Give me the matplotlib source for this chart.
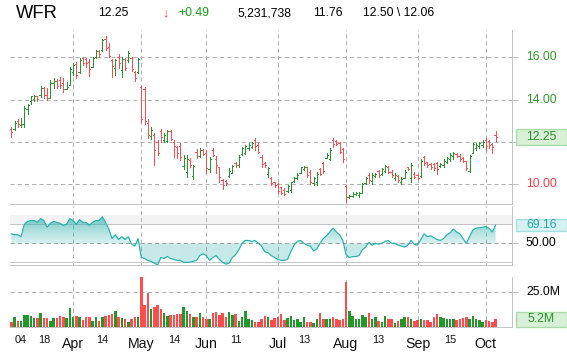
import matplotlib
matplotlib.use('Agg')
import matplotlib.pyplot as plt
import matplotlib.transforms as mtrans
from matplotlib.patches import Rectangle
from matplotlib.colors import to_rgb
import numpy as np

plt.rcParams['font.family'] = ['Liberation Sans', 'DejaVu Sans']
plt.rcParams['lines.scale_dashes'] = False

# ---------------- data ----------------
opens = [12.60, 12.60, 13.00, 12.80, 12.85, 13.55, 13.95, 14.05, 14.15, 14.20,
         14.55, 14.20, 14.10, 14.80, 14.90, 14.95, 14.80, 14.50, 14.70, 15.30,
         15.70, 15.30, 15.95, 15.90, 15.80, 15.55, 16.00, 16.30, 16.35, 16.85,
         16.50, 15.85, 15.50, 16.00, 15.40, 15.90, 15.85, 15.95, 15.30, 15.30,
         14.60, 14.50, 12.90, 12.30, 12.35, 12.00, 12.50, 12.10, 12.05, 12.50,
         12.00, 11.75, 11.80, 10.85, 10.60, 11.15, 10.40, 11.55, 11.35, 11.60,
         11.50, 10.70, 11.60, 11.20, 10.80, 10.20, 10.15, 10.40, 10.55, 11.00,
         10.90, 11.45, 11.50, 11.70, 11.75, 12.10, 11.85, 11.30, 11.00, 10.50,
         10.30, 10.10, 10.00, 9.85, 9.75, 9.70, 9.75, 10.15, 10.30, 10.55,
         10.70, 10.80, 10.60, 10.05, 10.10, 10.70, 11.00, 11.25, 11.20, 12.10,
         12.05, 11.95, 11.65, 9.90, 9.38, 9.45, 9.52, 9.50, 9.60, 10.05,
         10.45, 10.15, 10.40, 10.62, 10.50, 10.65, 10.80, 10.60, 10.30, 10.40,
         10.10, 10.30, 10.80, 10.30, 10.50, 10.45, 10.40, 11.30, 11.05, 10.95,
         10.95, 11.00, 10.85, 10.90, 11.05, 11.20, 11.35, 11.45, 11.35, 11.25,
         11.10, 10.65, 11.50, 11.70, 11.80, 11.85, 12.10, 12.05, 11.90, 12.33]
highs = [12.72, 13.01, 13.07, 13.12, 13.70, 13.80, 14.19, 14.22, 14.17, 14.65,
         14.61, 14.54, 14.93, 15.01, 14.96, 15.09, 15.01, 14.85, 15.56, 15.72,
         15.80, 15.95, 16.03, 15.95, 15.91, 16.03, 16.35, 16.35, 16.85, 17.01,
         16.66, 15.91, 15.91, 16.16, 16.03, 15.95, 16.31, 16.03, 15.37, 15.95,
         14.65, 14.58, 13.07, 12.72, 12.41, 12.09, 12.60, 12.44, 12.57, 12.57,
         12.09, 11.81, 11.97, 11.39, 11.39, 11.23, 10.91, 11.65, 11.70, 11.65,
         11.62, 11.31, 11.70, 11.34, 10.83, 10.24, 10.20, 10.76, 10.91, 11.07,
         11.39, 11.78, 11.86, 11.94, 12.02, 12.17, 11.94, 11.39, 11.07, 10.83,
         10.36, 10.13, 10.08, 9.89, 9.81, 9.97, 10.13, 10.36, 10.52, 10.83,
         10.87, 10.83, 10.68, 10.36, 10.60, 10.76, 11.07, 11.46, 11.70, 12.17,
         12.09, 12.02, 11.70, 9.97, 9.50, 9.65, 9.65, 9.65, 10.05, 10.36,
         10.52, 10.52, 10.55, 10.68, 10.76, 10.91, 10.87, 10.68, 10.52, 10.44,
         10.36, 10.68, 10.83, 11.02, 10.60, 10.49, 11.20, 11.34, 11.07, 10.99,
         10.99, 11.07, 11.02, 11.18, 11.31, 11.46, 11.54, 11.50, 11.43, 11.31,
         11.12, 11.39, 11.97, 11.94, 12.00, 12.09, 12.17, 12.09, 11.94, 12.50]
lows = [12.22, 12.57, 12.72, 12.72, 12.72, 13.32, 13.80, 13.95, 13.95, 14.14,
        14.06, 13.98, 14.06, 14.54, 14.54, 14.54, 14.38, 14.49, 14.69, 15.17,
        15.01, 15.24, 15.64, 15.56, 15.12, 15.53, 15.95, 16.03, 16.31, 16.35,
        16.00, 15.09, 15.17, 15.48, 15.09, 15.40, 15.80, 15.37, 14.90, 15.24,
        12.96, 12.85, 12.17, 12.13, 10.91, 11.39, 12.02, 12.02, 12.02, 12.07,
        11.31, 11.23, 11.15, 10.71, 10.36, 10.80, 10.24, 11.23, 11.31, 11.39,
        10.55, 10.60, 11.34, 10.52, 10.13, 9.76, 9.97, 10.36, 10.52, 10.83,
        10.83, 11.39, 11.43, 11.62, 11.70, 11.62, 11.46, 10.83, 10.83, 10.36,
        9.97, 9.89, 9.61, 9.54, 9.50, 9.65, 9.65, 10.13, 10.24, 10.52,
        10.68, 10.36, 10.02, 9.97, 9.97, 10.44, 10.55, 11.23, 11.15, 11.78,
        11.86, 11.46, 11.07, 9.18, 9.34, 9.42, 9.50, 9.42, 9.57, 10.02,
        10.05, 10.02, 10.36, 10.36, 10.44, 10.60, 10.52, 10.36, 10.20, 10.13,
        10.02, 10.28, 10.68, 10.13, 10.28, 10.24, 10.36, 10.91, 10.83, 10.71,
        10.68, 10.49, 10.80, 10.83, 10.99, 11.12, 11.18, 11.28, 11.12, 11.07,
        10.68, 10.60, 11.46, 11.62, 11.70, 11.78, 11.62, 11.70, 11.50, 12.06]
closes = [12.45, 12.92, 12.85, 12.87, 13.62, 13.75, 14.15, 14.18, 14.05, 14.55,
          14.20, 14.10, 14.80, 14.90, 14.65, 14.70, 14.50, 14.60, 15.45, 15.65,
          15.15, 15.85, 15.75, 15.75, 15.45, 15.95, 16.30, 16.15, 16.80, 16.45,
          16.05, 15.60, 15.85, 15.75, 15.90, 15.50, 16.20, 15.45, 15.00, 15.90,
          13.10, 13.00, 12.35, 12.55, 11.60, 11.50, 12.25, 12.35, 12.50, 12.15,
          11.80, 11.50, 11.30, 11.25, 11.20, 10.90, 10.85, 11.35, 11.60, 11.45,
          10.75, 11.20, 11.40, 10.90, 10.35, 9.95, 10.05, 10.65, 10.85, 10.90,
          11.30, 11.70, 11.80, 11.85, 11.95, 11.80, 11.55, 10.95, 10.90, 10.75,
          10.05, 9.95, 9.70, 9.60, 9.55, 9.90, 10.10, 10.30, 10.45, 10.80,
          10.82, 10.45, 10.10, 10.30, 10.50, 10.50, 10.65, 11.40, 11.60, 11.90,
          11.92, 11.55, 11.20, 9.40, 9.45, 9.55, 9.60, 9.58, 10.00, 10.30,
          10.20, 10.45, 10.50, 10.45, 10.70, 10.85, 10.60, 10.45, 10.45, 10.20,
          10.25, 10.60, 10.72, 10.90, 10.35, 10.30, 11.10, 11.00, 10.90, 10.80,
          10.75, 10.70, 10.95, 11.10, 11.25, 11.40, 11.50, 11.35, 11.20, 11.10,
          10.75, 11.35, 11.90, 11.85, 11.95, 12.00, 11.80, 11.85, 11.76, 12.25]
volumes = [3.6, 7.1, 4.0, 4.3, 8.3, 8.3, 7.6, 6.0, 6.0, 10.0,
           6.0, 6.0, 4.3, 6.0, 6.0, 7.6, 6.7, 6.0, 13.6, 7.1,
           7.6, 6.7, 4.8, 6.7, 6.7, 4.3, 6.7, 4.3, 6.7, 7.6,
           8.3, 9.0, 11.4, 6.7, 6.0, 5.2, 3.6, 5.2, 6.7, 7.1,
           35.7, 15.5, 23.8, 12.6, 14.3, 15.5, 12.4, 10.0, 7.6, 8.3,
           8.3, 9.0, 9.0, 14.3, 11.4, 9.0, 7.1, 7.1, 10.0, 6.7,
           5.2, 5.7, 10.0, 10.7, 8.3, 10.0, 7.1, 10.7, 8.3, 9.0,
           4.3, 7.1, 11.2, 5.7, 4.8, 3.6, 3.6, 5.2, 7.9, 6.7,
           4.8, 6.0, 6.7, 9.0, 4.8, 6.0, 7.6, 4.8, 5.7, 3.6,
           6.7, 3.6, 3.6, 2.9, 5.7, 10.0, 5.7, 5.7, 5.7, 6.7,
           5.7, 4.8, 5.7, 31.7, 11.4, 7.6, 5.7, 5.7, 8.3, 7.1,
           10.0, 5.2, 7.1, 4.3, 3.6, 7.6, 5.7, 5.2, 2.9, 4.3,
           5.7, 6.7, 6.7, 5.2, 4.3, 4.8, 5.2, 4.8, 4.8, 3.6,
           7.1, 9.0, 7.1, 6.0, 5.2, 5.2, 5.2, 4.8, 5.2, 6.0,
           6.7, 5.2, 7.6, 5.2, 4.8, 3.6, 4.8, 4.3, 3.6, 5.2]
rsi = [60, 59, 59, 57, 70, 73, 74, 74, 72, 76,
       74, 67, 71, 73, 72, 71, 69, 70, 76, 74,
       70, 75, 72, 72, 69, 72, 74, 74, 78, 72,
       65, 55, 59, 54, 57, 54, 57, 49, 47, 55,
       35, 34, 32, 31, 29, 27, 35, 34, 36, 34,
       33, 32, 32, 30, 30, 30, 31, 32, 37, 39,
       37, 32, 35, 37, 33, 30, 28, 29, 35, 38,
       43, 50, 53, 53, 52, 53, 50, 47, 41, 40,
       37, 35, 33, 32, 32, 33, 41, 48, 52, 53,
       50, 48, 47, 42, 44, 50, 55, 58, 62, 66,
       62, 59, 53, 38, 35, 36, 36, 37, 43, 46,
       51, 48, 50, 49, 50, 52, 53, 50, 50, 48,
       47, 46, 48, 53, 49, 48, 54, 60, 57, 58,
       56, 54, 53, 55, 59, 61, 65, 62, 60, 55,
       50, 57, 64, 66, 66.5, 67, 67.5, 66, 62, 69.16]

month_labels = ['Apr', 'May', 'Jun', 'Jul', 'Aug', 'Sep', 'Oct']
month_pos = [19, 40, 60, 82, 103, 125, 146]
day_labels = ['04', '18', '14', '14', '11', '13', '13', '15']
day_pos = [3, 10, 28, 50, 69, 90, 113, 135]
price_ticks = [10, 12, 14, 16]
price_tick_labels = ['10.00', '12.00', '14.00', '16.00']

header = [('WFR', 16, 13.2, '#000000'), ('12.25', 98, 8.8, '#000000'),
          ('\u2193', 162, 9.0, '#ff4040'), ('+0.49', 178, 8.8, '#14a014'),
          ('5,231,738', 238, 8.8, '#000000'), ('11.76', 313, 8.8, '#000000'),
          ('12.50 \\ 12.06', 363, 8.8, '#000000')]

# ---------------- style ----------------
W, H = 567, 352
RED = '#ff4c4c'
GREEN = '#22982a'
GRID = '#b2b2b2'
SPINE = '#c4c4c4'
TEAL = '#22b2ad'
PX = 72.0 / 100.0  # one pixel in points

fig = plt.figure(figsize=(W / 100, H / 100), dpi=100)
fig.patch.set_facecolor('white')


def rect(x0, y0, x1, y1):
    return [x0 / W, 1 - y1 / H, (x1 - x0) / W, (y1 - y0) / H]


ax_p = fig.add_axes(rect(10, 30, 511.5, 204))
ax_r = fig.add_axes(rect(10, 206, 511.5, 265.3))
ax_v = fig.add_axes(rect(10, 277, 511.5, 326.7))

n = len(closes)
xs = np.arange(n)
XLIM = (-0.4, 153.9)
colors = [GREEN if c >= o else RED for o, c in zip(opens, closes)]

for ax in (ax_p, ax_r, ax_v):
    ax.set_xlim(*XLIM)
    for s in ('top', 'left'):
        ax.spines[s].set_visible(False)
    for s in ('right', 'bottom'):
        ax.spines[s].set_color(SPINE)
        ax.spines[s].set_linewidth(PX)
    ax.set_xticks([])
    ax.tick_params(axis='y', left=False, right=True, labelleft=False,
                   labelright=False, length=4, width=PX, color=SPINE)
    for m in month_pos:
        ax.axvline(m, color=GRID, lw=PX, dashes=(3.0, 2.2), zorder=0.5)

# ---------------- price panel ----------------
BLW = 0.7
ax_p.set_ylim(9.07, 17.29)
ax_p.set_yticks(price_ticks)
for t in price_ticks:
    ax_p.axhline(t, color=GRID, lw=PX, dashes=(3.0, 2.2), zorder=0.5)
ax_p.vlines(xs, lows, highs, colors=colors, lw=BLW, antialiased=False, zorder=3)
ax_p.hlines(opens, xs - 0.36, xs, colors=colors, lw=BLW, antialiased=False, zorder=3)
ax_p.hlines(closes, xs, xs + 0.36, colors=colors, lw=BLW, antialiased=False, zorder=3)

tp = mtrans.blended_transform_factory(fig.transFigure, ax_p.transData)
lab_colors = {10: '#ff3b48', 12: '#2f9a2a', 14: '#2f9a2a', 16: '#2f9a2a'}
for t, lab in zip(price_ticks, price_tick_labels):
    fig.text(526 / W, t, lab, transform=tp, ha='left', va='center',
             fontsize=8.8, color=lab_colors[t], zorder=2)
last = closes[-1]
fig.patches.append(Rectangle((515.7 / W, last - 0.37), 51 / W, 0.74, transform=tp,
                             facecolor='#d8efd8', edgecolor='#a9dca9', lw=1.0, zorder=3))
fig.text(541.2 / W, last, f'{last:.2f}', transform=tp, ha='center', va='center',
         fontsize=8.8, color='#2a8c2a', zorder=4)

# ---------------- RSI panel ----------------
RLIM = (26.8, 89.3)
ax_r.set_ylim(*RLIM)
ax_r.set_yticks([50])
ax_r.axhspan(70, 80, color='#f2f3f2', zorder=0.2, lw=0)
ax_r.axhline(70, color='#c6c6c6', lw=PX, zorder=0.6)
ax_r.axhline(30, color='#c6c6c6', lw=PX, zorder=0.6)
ax_r.axhline(50, color='#a0a0a0', lw=PX, dashes=(3.0, 2.2), zorder=2.5)

poly = ax_r.fill_between(xs, rsi, 50, facecolor='none', edgecolor='none')
yy = np.linspace(RLIM[0], RLIM[1], 300)
alpha = np.where(yy >= 50, 0.18 + 0.47 * np.clip((yy - 50) / 28, 0, 1), 0.27)
grad = np.zeros((300, 1, 4))
grad[..., :3] = to_rgb('#2ab0ad')
grad[:, 0, 3] = alpha
im = ax_r.imshow(grad, extent=[XLIM[0], XLIM[1], RLIM[0], RLIM[1]], origin='lower',
                 aspect='auto', zorder=1, interpolation='bilinear')
im.set_clip_path(poly.get_paths()[0], transform=ax_r.transData)
ax_r.plot(xs, rsi, color=TEAL, lw=0.85, zorder=3)
ax_r.set_xlim(*XLIM)
ax_r.set_ylim(*RLIM)

tr = mtrans.blended_transform_factory(fig.transFigure, ax_r.transData)
lr = rsi[-1]
fig.patches.append(Rectangle((515.7 / W, lr - 6.5), 51 / W, 13.0, transform=tr,
                             facecolor='#d6f1f1', edgecolor='#a6dede', lw=1.0, zorder=3))
fig.text(541.2 / W, lr, f'{lr:.2f}', transform=tr, ha='center', va='center',
         fontsize=8.8, color='#22aaa8', zorder=4)
fig.text(526 / W, 50, '50.00', transform=tr, ha='left', va='center',
         fontsize=8.8, color='#000000')

# ---------------- volume panel ----------------
ax_v.set_ylim(0, 35.5)
ax_v.set_yticks([25])
ax_v.axhline(25, color=GRID, lw=PX, dashes=(3.0, 2.2), zorder=0.5)
ax_v.bar(xs, volumes, width=0.78, color=colors, lw=0, zorder=2)
tv = mtrans.blended_transform_factory(fig.transFigure, ax_v.transData)
fig.text(526 / W, 25, '25.0M', transform=tv, ha='left', va='center',
         fontsize=8.8, color='#000000')
lv = volumes[-1]
fig.patches.append(Rectangle((515.7 / W, lv - 5.3), 51 / W, 10.6, transform=tv,
                             facecolor='#d8efd8', edgecolor='#a9dca9', lw=1.0, zorder=3))
fig.text(541.2 / W, lv, f'{lv:.1f}M', transform=tv, ha='center', va='center',
         fontsize=8.8, color='#2a8c2a', zorder=4)

# x labels
tx = mtrans.blended_transform_factory(ax_v.transData, fig.transFigure)
for p, lab in zip(month_pos, month_labels):
    ax_v.text(p, 1 - 344 / H, lab, transform=tx, ha='center', va='center',
              fontsize=10.2, color='#111111', clip_on=False)
for p, lab in zip(day_pos, day_labels):
    ax_v.text(p, 1 - 340 / H, lab, transform=tx, ha='center', va='center',
              fontsize=7.8, color='#111111', clip_on=False)

# header
for s, x, fs, c in header:
    fig.text(x / W, 1 - 13 / H, s, ha='left', va='center', fontsize=fs, color=c)

fig.savefig('out.png', dpi=100, facecolor='white')
